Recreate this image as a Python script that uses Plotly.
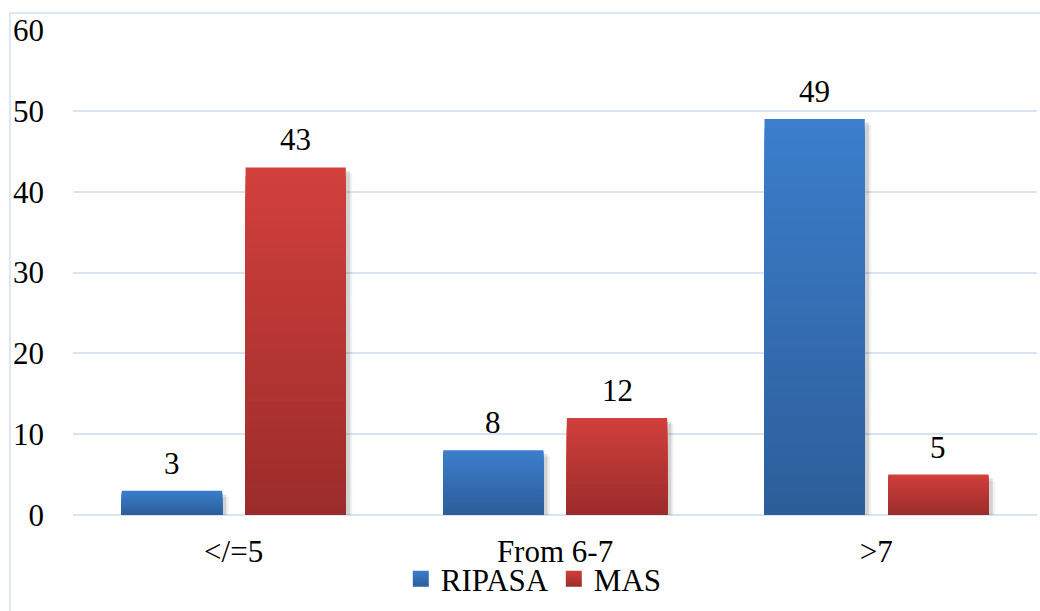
import plotly.graph_objects as go

# Score bands and patient counts per scoring system
categories = ["</=5", "From 6-7", ">7"]
ripasa = [3, 8, 49]
mas = [43, 12, 5]
y_ticks = [0, 10, 20, 30, 40, 50, 60]

FONT = "Liberation Serif, Times New Roman, serif"
FS = 31
GRID = "#d9e4f2"

series = [
    # name, values, top colour, bottom colour, bar offset within category
    ("RIPASA", ripasa, (59, 126, 203), (45, 94, 154), -0.348),
    ("MAS", mas, (209, 64, 60), (156, 44, 43), 0.037),
]
BAR_W = 0.312
STEPS = 40


def mix(c0, c1, t):
    return "rgb(%d,%d,%d)" % tuple(round(a + (b - a) * t) for a, b in zip(c0, c1))


fig = go.Figure()

# soft drop shadow behind each bar
for name, vals, top, bot, off in series:
    for dx, dy, alpha in [(0.020, 0.75, 0.06), (0.013, 0.45, 0.12)]:
        fig.add_trace(go.Bar(
            x=categories, y=vals, base=[-dy] * len(vals),
            offset=off + dx, width=BAR_W,
            marker=dict(color="rgba(0,0,0,%.2f)" % alpha, line=dict(width=0)),
            cliponaxis=False, showlegend=False, hoverinfo="skip",
        ))

# vertical gradient: nested bars, each shorter one painted darker on top
for name, vals, top, bot, off in series:
    for k in range(STEPS):
        frac = (STEPS - k) / STEPS
        fig.add_trace(go.Bar(
            x=categories, y=[v * frac for v in vals],
            offset=off, width=BAR_W,
            marker=dict(color=mix(top, bot, k / (STEPS - 1)), line=dict(width=0)),
            showlegend=False, hoverinfo="skip" if k else None,
            name=name,
        ))

# legend entries with gradient squares
for name, vals, top, bot, off in series:
    fig.add_trace(go.Scatter(
        x=[None], y=[None], mode="markers", name=name,
        marker=dict(symbol="square", size=16, color=mix(top, top, 0),
                    gradient=dict(type="vertical", color=mix(bot, bot, 0))),
    ))

# value labels above the bars
for name, vals, top, bot, off in series:
    for i, v in enumerate(vals):
        fig.add_annotation(
            x=i + off + BAR_W / 2, y=v, xref="x", yref="y",
            text=str(v), showarrow=False, yanchor="bottom", yshift=8,
            font=dict(family=FONT, size=FS, color="#000000"),
        )

# light outline framing the chart
fig.add_shape(
    type="path", xref="paper", yref="paper",
    path="M -0.0654 -0.2 L -0.0654 1.0351 L 1.01 1.0351",
    line=dict(color="#d3e0f1", width=1.5),
)

fig.update_layout(
    width=1040, height=611,
    margin=dict(l=73, r=3, t=30, b=96),
    paper_bgcolor="white", plot_bgcolor="white",
    barmode="overlay",
    font=dict(family=FONT, size=FS, color="#000000"),
    showlegend=True,
    legend=dict(
        orientation="h", x=0.478, xanchor="center", y=-0.132, yanchor="middle",
        font=dict(family=FONT, size=FS, color="#000000"),
        itemsizing="trace", bgcolor="rgba(0,0,0,0)", itemwidth=30,
    ),
    xaxis=dict(
        type="category", categoryorder="array", categoryarray=categories,
        range=[-0.5, 2.5], showgrid=False, zeroline=False, showline=False,
        ticks="", ticklabelstandoff=15,
        tickfont=dict(family=FONT, size=FS, color="#000000"),
    ),
    yaxis=dict(
        range=[0, 60], tickvals=y_ticks, showgrid=True, gridcolor=GRID,
        gridwidth=1.5, zeroline=True, zerolinecolor=GRID, zerolinewidth=1.5,
        showline=False, ticks="", ticklabelstandoff=28,
        tickfont=dict(family=FONT, size=FS, color="#000000"),
    ),
)

fig.write_html("out.html")
